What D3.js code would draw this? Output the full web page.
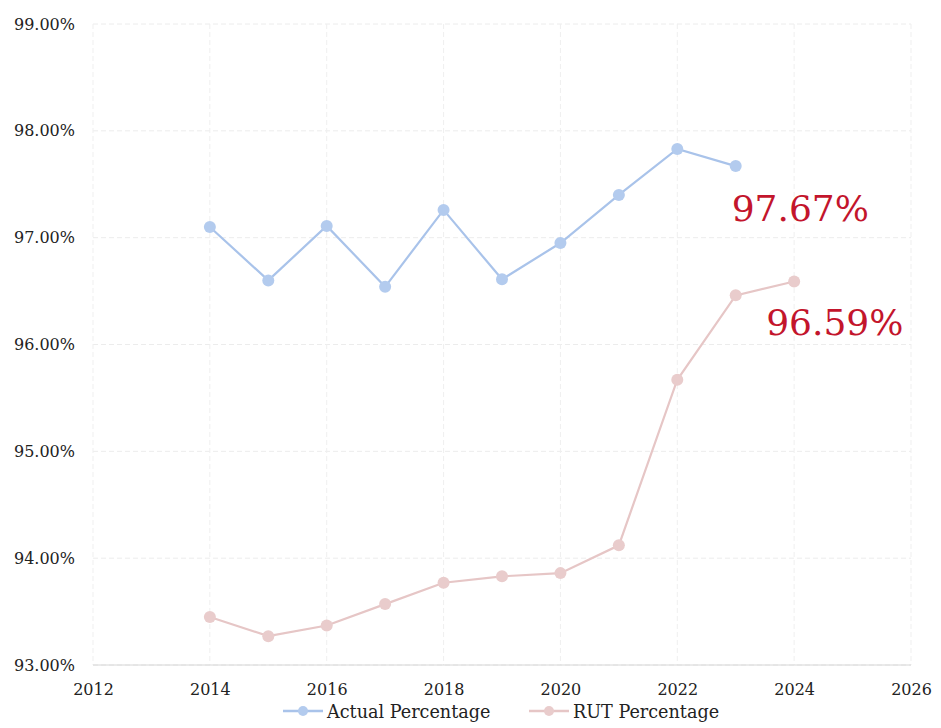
<!DOCTYPE html>
<html><head><meta charset="utf-8">
<script src="https://cdn.jsdelivr.net/npm/d3@7"></script>
<style>
html,body{margin:0;padding:0;background:#fff;}
svg{display:block;font-family:"DejaVu Serif","Liberation Serif",serif;}
</style></head>
<body>
<svg id="c" width="941" height="728"></svg>
<script>
const actualYears = [2014,2015,2016,2017,2018,2019,2020,2021,2022,2023];
const actualValues = [97.10,96.60,97.11,96.54,97.26,96.61,96.95,97.40,97.83,97.67];
const rutYears = [2014,2015,2016,2017,2018,2019,2020,2021,2022,2023,2024];
const rutValues = [93.45,93.27,93.37,93.57,93.77,93.83,93.86,94.12,95.67,96.46,96.59];
const xTicks = [2012,2014,2016,2018,2020,2022,2024,2026];
const yTicks = [93,94,95,96,97,98,99];
const seriesNames = ["Actual Percentage","RUT Percentage"];
const callouts = [{text:"97.67%", year:2023, value:97.67},{text:"96.59%", year:2024, value:96.59}];

const svg = d3.select("#c");
const pLeft=93, pRight=911, pTop=24, pBottom=665;
const x = d3.scaleLinear().domain([2012,2026]).range([pLeft,pRight]);
const y = d3.scaleLinear().domain([93,99]).range([pBottom,pTop]);

const blue="#a9c3ea", blueDot="#b3cbee", pink="#e6c6c6", pinkDot="#e9cccc", red="#c3152c";
const FONT = "DejaVu Serif, Liberation Serif, serif";

// gridlines
const g = svg.append("g");
g.selectAll(".hg").data(yTicks).join("line")
  .attr("x1",pLeft).attr("x2",pRight).attr("y1",d=>y(d)).attr("y2",d=>y(d))
  .attr("stroke","#ececec").attr("stroke-width",1).attr("stroke-dasharray","5,3");
g.selectAll(".vg").data(xTicks).join("line")
  .attr("y1",pTop).attr("y2",pBottom).attr("x1",d=>x(d)).attr("x2",d=>x(d))
  .attr("stroke","#efefef").attr("stroke-width",1).attr("stroke-dasharray","5,3");
svg.append("line").attr("x1",pLeft).attr("x2",pRight).attr("y1",pBottom).attr("y2",pBottom)
  .attr("stroke","#d6d6d6").attr("stroke-width",1);

// axes
const yAxis = d3.axisLeft(y).tickValues(yTicks).tickSize(0).tickPadding(18)
  .tickFormat(d=>d3.format(".2f")(d)+"%");
svg.append("g").attr("transform",`translate(${pLeft},0)`).call(yAxis)
  .call(s=>s.select(".domain").remove())
  .selectAll("text").attr("font-size",16).attr("fill","#222").attr("font-family",FONT);
const xAxis = d3.axisBottom(x).tickValues(xTicks).tickSize(0).tickPadding(19).tickFormat(d3.format("d"));
svg.append("g").attr("transform",`translate(0,${pBottom})`).call(xAxis)
  .call(s=>s.select(".domain").remove())
  .selectAll("text").attr("font-size",16).attr("fill","#222").attr("font-family",FONT);

// lines
const line = d3.line().x(d=>x(d[0])).y(d=>y(d[1]));
const actual = actualYears.map((yr,i)=>[yr,actualValues[i]]);
const rut = rutYears.map((yr,i)=>[yr,rutValues[i]]);
svg.append("path").datum(actual).attr("d",line).attr("fill","none").attr("stroke",blue).attr("stroke-width",2.2);
svg.append("path").datum(rut).attr("d",line).attr("fill","none").attr("stroke",pink).attr("stroke-width",2.2);
svg.selectAll(".pa").data(actual).join("circle").attr("cx",d=>x(d[0])).attr("cy",d=>y(d[1])).attr("r",6).attr("fill",blueDot);
svg.selectAll(".pr").data(rut).join("circle").attr("cx",d=>x(d[0])).attr("cy",d=>y(d[1])).attr("r",6).attr("fill",pinkDot);

// callouts
const coOffset = [{dx:-4,dy:55},{dx:-28,dy:54}];
svg.selectAll(".co").data(callouts).join("text")
  .attr("x",(d,i)=>x(d.year)+coOffset[i].dx).attr("y",(d,i)=>y(d.value)+coOffset[i].dy)
  .attr("font-size",36).attr("fill",red).attr("font-family",FONT)
  .text(d=>d.text);

// legend
const legend = [{name:seriesNames[0],c:blue,dc:blueDot,x:283},{name:seriesNames[1],c:pink,dc:pinkDot,x:529}];
const lg = svg.selectAll(".lg").data(legend).join("g").attr("transform",d=>`translate(${d.x},711)`);
lg.append("line").attr("x1",0).attr("x2",40).attr("stroke",d=>d.c).attr("stroke-width",2.5);
lg.append("circle").attr("cx",20).attr("r",5).attr("fill",d=>d.dc);
lg.append("text").attr("x",44).attr("y",6.5).attr("font-size",17.6).attr("fill","#222").attr("font-family",FONT).text(d=>d.name);
</script>
</body></html>
